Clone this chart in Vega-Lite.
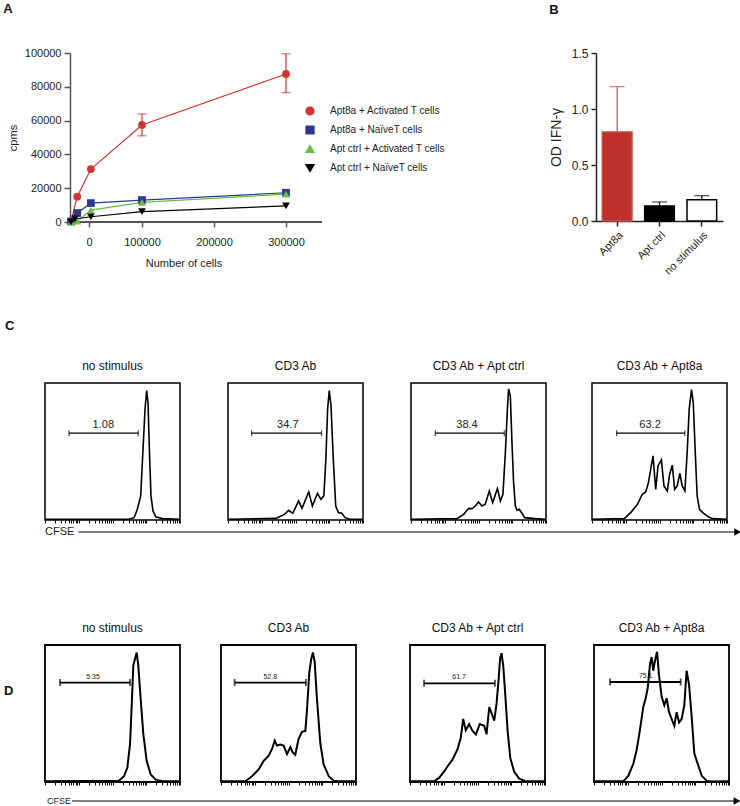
{
"$schema": "https://vega.github.io/schema/vega-lite/v6.json",
"padding": {"left": 3, "top": 3, "right": 0, "bottom": 0},
"background": "white",
"config": {
  "font": "Liberation Sans",
  "view": {"stroke": null},
  "title": {"fontSize": 13, "fontWeight": "bold", "anchor": "start", "color": "#111"},
  "axis": {"labelFont": "Liberation Sans", "titleFont": "Liberation Sans", "grid": false, "labelColor": "#222", "titleColor": "#222"}
},
"datasets": {
  "lines": [
    {"series": "Apt8a + Activated T cells", "x": 1500, "y": 500},
    {"series": "Apt8a + Activated T cells", "x": 10000, "y": 15000},
    {"series": "Apt8a + Activated T cells", "x": 29000, "y": 31300},
    {"series": "Apt8a + Activated T cells", "x": 100000, "y": 57400},
    {"series": "Apt8a + Activated T cells", "x": 300000, "y": 87600},
    {"series": "Apt8a + NaïveT cells", "x": 1500, "y": 300},
    {"series": "Apt8a + NaïveT cells", "x": 10000, "y": 5300},
    {"series": "Apt8a + NaïveT cells", "x": 29000, "y": 11200},
    {"series": "Apt8a + NaïveT cells", "x": 100000, "y": 13000},
    {"series": "Apt8a + NaïveT cells", "x": 300000, "y": 17300},
    {"series": "Apt ctrl + Activated T cells", "x": 1500, "y": 0},
    {"series": "Apt ctrl + Activated T cells", "x": 10000, "y": 500},
    {"series": "Apt ctrl + Activated T cells", "x": 29000, "y": 7000},
    {"series": "Apt ctrl + Activated T cells", "x": 100000, "y": 11600},
    {"series": "Apt ctrl + Activated T cells", "x": 300000, "y": 16500},
    {"series": "Apt ctrl + NaïveT cells", "x": 1500, "y": 0},
    {"series": "Apt ctrl + NaïveT cells", "x": 7000, "y": 1800},
    {"series": "Apt ctrl + NaïveT cells", "x": 29000, "y": 3100},
    {"series": "Apt ctrl + NaïveT cells", "x": 100000, "y": 6100},
    {"series": "Apt ctrl + NaïveT cells", "x": 300000, "y": 9500}
  ],
  "errs": [
    {"x": 100000, "y": 51000, "hi": 64000},
    {"x": 300000, "y": 76500, "hi": 99500}
  ],
  "ifn": [
    {"cat": "Apt8a", "v": 0.795, "hi": 1.2},
    {"cat": "Apt ctrl", "v": 0.135, "hi": 0.17},
    {"cat": "no stimulus", "v": 0.19, "hi": 0.226}
  ],
  "c1": [{"x":0,"y":0.5},{"x":62,"y":0.5},{"x":66,"y":1.7},{"x":68.4,"y":7.8},{"x":70.9,"y":17.6},{"x":72.6,"y":51.7},{"x":74.1,"y":81},{"x":75.3,"y":94.4},{"x":76.3,"y":85.9},{"x":77.3,"y":51.7},{"x":78.5,"y":17.6},{"x":80,"y":6.6},{"x":82,"y":2.4},{"x":86.9,"y":1},{"x":100,"y":0.5}],
  "c2": [{"x":0,"y":0.5},{"x":35.5,"y":1.2},{"x":41.8,"y":4.1},{"x":45,"y":7.1},{"x":48,"y":4.9},{"x":52.3,"y":13.9},{"x":54.8,"y":8.5},{"x":59.8,"y":20.5},{"x":62.5,"y":10.2},{"x":66.3,"y":19.5},{"x":68.8,"y":15.1},{"x":71,"y":17.6},{"x":72.5,"y":44.4},{"x":73.8,"y":81},{"x":75,"y":94.4},{"x":76.3,"y":83.4},{"x":78,"y":44.4},{"x":79.8,"y":10.2},{"x":81.8,"y":5.4},{"x":84.3,"y":4.9},{"x":86.8,"y":1.7},{"x":90.5,"y":0.5},{"x":100,"y":0.5}],
  "c3": [{"x":0,"y":0.5},{"x":34,"y":1},{"x":39,"y":4.1},{"x":42.7,"y":8.5},{"x":45.2,"y":8.3},{"x":47.7,"y":10.2},{"x":50,"y":13.2},{"x":52.6,"y":10.2},{"x":55,"y":11.5},{"x":58,"y":21.2},{"x":60.5,"y":12.7},{"x":64,"y":22.9},{"x":66.2,"y":13.9},{"x":68.1,"y":18.8},{"x":69.9,"y":49.3},{"x":71.4,"y":81},{"x":72.3,"y":95.6},{"x":73.6,"y":90.2},{"x":74.8,"y":56.6},{"x":76,"y":27.3},{"x":77.3,"y":10.2},{"x":78.5,"y":7.1},{"x":80.2,"y":7.8},{"x":82.2,"y":4.9},{"x":84.2,"y":1.7},{"x":92,"y":1},{"x":100,"y":0.5}],
  "c4": [{"x":0,"y":0.5},{"x":23.8,"y":1},{"x":28.7,"y":5.4},{"x":33.7,"y":11.5},{"x":37.3,"y":18.8},{"x":39.8,"y":20.5},{"x":41.8,"y":27.3},{"x":43.5,"y":37.1},{"x":45.2,"y":46.8},{"x":47.2,"y":22.4},{"x":48.9,"y":39.5},{"x":51.4,"y":43.9},{"x":53.3,"y":24.9},{"x":55.8,"y":21.2},{"x":57.5,"y":33.4},{"x":59.5,"y":40},{"x":61.2,"y":22.4},{"x":63.1,"y":24.9},{"x":65.1,"y":34.1},{"x":66.8,"y":24.9},{"x":68.8,"y":21.2},{"x":70.5,"y":49.3},{"x":72,"y":81},{"x":73.7,"y":95.1},{"x":75,"y":85.9},{"x":76.4,"y":51.7},{"x":77.9,"y":17.6},{"x":79.6,"y":7.8},{"x":82.1,"y":5.4},{"x":85.3,"y":2.9},{"x":88.9,"y":1},{"x":100,"y":0.5}],
  "d1": [{"x":0,"y":0.5},{"x":54.8,"y":1},{"x":58.5,"y":4.2},{"x":61,"y":10.4},{"x":63,"y":27.9},{"x":64.2,"y":55.2},{"x":65.4,"y":85.1},{"x":66.7,"y":90},{"x":67.9,"y":94.5},{"x":69.1,"y":85.1},{"x":70.9,"y":60.2},{"x":72.8,"y":35.3},{"x":75.3,"y":15.4},{"x":78.3,"y":5.5},{"x":82,"y":1.7},{"x":86.9,"y":0.5},{"x":100,"y":0.5}],
  "d2": [{"x":0,"y":0.5},{"x":18,"y":0.5},{"x":23,"y":4.2},{"x":27.9,"y":9.2},{"x":31.6,"y":15.4},{"x":35.3,"y":19.2},{"x":37.8,"y":24.1},{"x":39.8,"y":30.3},{"x":41.5,"y":26.6},{"x":44,"y":27.4},{"x":46.4,"y":26.6},{"x":48.9,"y":20.4},{"x":51.4,"y":25.4},{"x":53.1,"y":21.6},{"x":55,"y":19.9},{"x":57.5,"y":31.6},{"x":60,"y":36.6},{"x":62.5,"y":37.3},{"x":63.7,"y":52.7},{"x":65.4,"y":80.1},{"x":66.9,"y":90},{"x":68.1,"y":94.5},{"x":69.4,"y":87.6},{"x":71.1,"y":60.2},{"x":73.6,"y":27.9},{"x":76,"y":12.9},{"x":79.8,"y":4.2},{"x":83.5,"y":1},{"x":87.2,"y":0.5},{"x":100,"y":0.5}],
  "d3": [{"x":0,"y":0.5},{"x":17.8,"y":0.5},{"x":21.5,"y":3},{"x":25.2,"y":7.5},{"x":28.5,"y":12.4},{"x":31.4,"y":16.2},{"x":35.1,"y":23.6},{"x":37.6,"y":32.3},{"x":39.4,"y":46},{"x":41.3,"y":37.8},{"x":43.8,"y":42.3},{"x":46.3,"y":37.3},{"x":48.8,"y":34.8},{"x":51.7,"y":42.3},{"x":55,"y":41},{"x":56.7,"y":34.8},{"x":58.7,"y":54.7},{"x":60.6,"y":49.8},{"x":62.4,"y":44.8},{"x":64.1,"y":57.2},{"x":65.6,"y":74.6},{"x":66.8,"y":90.8},{"x":67.8,"y":94},{"x":69.1,"y":84.6},{"x":70.5,"y":64.7},{"x":72.3,"y":37.3},{"x":74.3,"y":17.4},{"x":77.2,"y":7.5},{"x":80.9,"y":2.5},{"x":85.9,"y":0.5},{"x":100,"y":0.5}],
  "d4": [{"x":0,"y":0.5},{"x":21.7,"y":0.5},{"x":25.4,"y":4.5},{"x":29.1,"y":13.3},{"x":31.6,"y":23.4},{"x":34.1,"y":38.4},{"x":36.5,"y":54.8},{"x":38.3,"y":61.1},{"x":39.8,"y":68.6},{"x":41.5,"y":86.2},{"x":42.7,"y":91.2},{"x":43.9,"y":81.2},{"x":45.2,"y":88.7},{"x":46.7,"y":95},{"x":48.1,"y":78.6},{"x":50.1,"y":62.3},{"x":52.1,"y":56},{"x":53.8,"y":61.1},{"x":55.6,"y":51},{"x":57.5,"y":46},{"x":59.5,"y":41},{"x":61.2,"y":51},{"x":63,"y":43.5},{"x":64.9,"y":46},{"x":66.9,"y":56},{"x":68.6,"y":81.2},{"x":70.4,"y":71.1},{"x":72.3,"y":48.5},{"x":74.3,"y":20.9},{"x":76.8,"y":13.3},{"x":79.8,"y":4.5},{"x":83.5,"y":0.8},{"x":87.2,"y":0.3},{"x":100,"y":0.5}],
  "gates": [
    {"p": "C1", "x": 17.8, "x2": 69.1, "y": 63.4, "mid": 43.2, "label": "1.08"},
    {"p": "C2", "x": 17.5, "x2": 69.3, "y": 63.4, "mid": 44.3, "label": "34.7"},
    {"p": "C3", "x": 18, "x2": 69.1, "y": 63.4, "mid": 41.5, "label": "38.4"},
    {"p": "C4", "x": 18.2, "x2": 68.8, "y": 63.4, "mid": 43, "label": "63.2"},
    {"p": "D1", "x": 11.1, "x2": 63, "y": 72.6, "mid": 35.6, "label": "5.35"},
    {"p": "D2", "x": 10.1, "x2": 62.9, "y": 72.6, "mid": 36.5, "label": "52.8"},
    {"p": "D3", "x": 10.4, "x2": 62.9, "y": 72, "mid": 36.4, "label": "61.7"},
    {"p": "D4", "x": 11.9, "x2": 64.2, "y": 73, "mid": 38.3, "label": "75.1"}
  ]
},
"columns": 1,
"align": "none",
"spacing": 83,
"concat": [
  {
    "columns": 1,
    "align": "none",
    "spacing": 43,
    "concat": [
      {
        "spacing": 226,
        "hconcat": [
          {
            "title": {"text": "A", "anchor": "start", "frame": "bounds", "dx": -4, "offset": 31},
            "width": 277, "height": 169,
            "data": {"name": "lines"},
            "encoding": {
              "x": {"field": "x", "type": "quantitative", "scale": {"domain": [-34722, 350000], "nice": false, "zero": false},
                    "axis": {"values": [26400, 100000, 200000, 300000], "labelExpr": "datum.value < 50000 ? '0' : format(datum.value, 'd')", "title": "Number of cells", "titleFontSize": 11, "titleFontWeight": "normal", "labelFontSize": 11, "tickSize": 5, "labelPadding": 9, "titlePadding": 10, "domain": false, "tickColor": "#555", "tickWidth": 1.5}},
              "y": {"field": "y", "type": "quantitative", "scale": {"domain": [0, 100000], "nice": false},
                    "axis": {"values": [0, 20000, 40000, 60000, 80000, 100000], "format": "d", "title": "cpms", "titleFontSize": 11, "titleFontWeight": "normal", "labelFontSize": 11, "tickSize": 6, "labelPadding": 3, "titlePadding": 6, "offset": -25, "domainColor": "#555", "tickColor": "#555", "domainWidth": 1.5, "tickWidth": 1.5}}
            },
            "layer": [
              {
                "mark": {"type": "rule", "color": "#555", "strokeWidth": 1.5},
                "encoding": {"x": {"datum": 0, "type": "quantitative"}, "x2": {"datum": 350000}, "y": {"datum": 0, "type": "quantitative"}}
              },
              {
                "mark": {"type": "line", "strokeWidth": 1.2},
                "encoding": {
                  "color": {"field": "series", "type": "nominal",
                            "scale": {"domain": ["Apt8a + Activated T cells", "Apt8a + NaïveT cells", "Apt ctrl + Activated T cells", "Apt ctrl + NaïveT cells"], "range": ["#d0362e", "#2b3990", "#6abd45", "#000000"]},
                            "legend": {"orient": "none", "legendX": 260, "legendY": 53, "title": null, "labelFontSize": 10, "labelColor": "#222", "symbolSize": 60, "rowPadding": 5, "labelOffset": 15}}
                }
              },
              {
                "data": {"name": "errs"},
                "layer": [
                  {"mark": {"type": "rule", "color": "#d0362e", "strokeWidth": 1.2},
                   "encoding": {"y2": {"field": "hi"}}},
                  {"mark": {"type": "tick", "orient": "horizontal", "color": "#d0362e", "size": 9, "thickness": 1.2},
                   "encoding": {}},
                  {"mark": {"type": "tick", "orient": "horizontal", "color": "#d0362e", "size": 9, "thickness": 1.2},
                   "encoding": {"y": {"field": "hi", "type": "quantitative"}}}
                ]
              },
              {
                "mark": {"type": "point", "filled": true, "opacity": 1, "size": 60},
                "encoding": {
                  "color": {"field": "series", "type": "nominal"},
                  "shape": {"field": "series", "type": "nominal",
                            "scale": {"domain": ["Apt8a + Activated T cells", "Apt8a + NaïveT cells", "Apt ctrl + Activated T cells", "Apt ctrl + NaïveT cells"], "range": ["circle", "square", "triangle-up", "triangle-down"]}}
                }
              }
            ]
          },
          {
            "title": {"text": "B", "anchor": "start", "frame": "bounds", "offset": 30},
            "width": 127, "height": 168,
            "data": {"name": "ifn"},
            "encoding": {
              "x": {"field": "cat", "type": "nominal", "sort": null, "scale": {"paddingInner": 0.3, "paddingOuter": 0.15},
                    "axis": {"labelAngle": -45, "labelFontSize": 11, "title": null, "domainColor": "#222", "domainWidth": 1.5, "tickColor": "#222", "tickWidth": 1.5, "tickSize": 5, "labelPadding": 3}},
              "y": {"field": "v", "type": "quantitative", "scale": {"domain": [0, 1.5], "nice": false},
                    "axis": {"values": [0, 0.5, 1, 1.5], "format": ".1f", "title": "OD IFN-γ", "titleFontSize": 14, "titleFontWeight": "normal", "labelFontSize": 12, "tickSize": 5, "labelPadding": 3, "titlePadding": 8, "domainColor": "#222", "domainWidth": 1.5, "tickColor": "#222", "tickWidth": 1.5}}
            },
            "layer": [
              {
                "mark": {"type": "bar", "strokeWidth": 1.5},
                "encoding": {
                  "fill": {"field": "cat", "type": "nominal", "scale": {"domain": ["Apt8a", "Apt ctrl", "no stimulus"], "range": ["#bd302b", "#000000", "#ffffff"]}, "legend": null},
                  "stroke": {"field": "cat", "type": "nominal", "scale": {"domain": ["Apt8a", "Apt ctrl", "no stimulus"], "range": ["#c94a45", "#000000", "#000000"]}, "legend": null}
                }
              },
              {
                "transform": [{"filter": "datum.cat === 'Apt8a'"}],
                "layer": [
                  {"mark": {"type": "rule", "color": "#d04a45", "strokeWidth": 1.2}, "encoding": {"y2": {"field": "hi"}}},
                  {"mark": {"type": "tick", "orient": "horizontal", "color": "#d04a45", "size": 15, "thickness": 1.2}, "encoding": {"y": {"field": "hi", "type": "quantitative"}}}
                ]
              },
              {
                "transform": [{"filter": "datum.cat !== 'Apt8a'"}],
                "layer": [
                  {"mark": {"type": "rule", "color": "#000000", "strokeWidth": 1.2}, "encoding": {"y2": {"field": "hi"}}},
                  {"mark": {"type": "tick", "orient": "horizontal", "color": "#000000", "size": 15, "thickness": 1.2}, "encoding": {"y": {"field": "hi", "type": "quantitative"}}}
                ]
              }
            ]
          }
        ]
      },
      {
        "columns": 1,
        "align": "none",
        "spacing": 1,
        "concat": [
          {
            "title": {"text": "C", "anchor": "start", "dx": -36, "offset": 26},
            "spacing": 40,
            "hconcat": [
              {"spacing": 40, "hconcat": [
                {"width": 135, "height": 137, "title": {"text": "no stimulus", "fontSize": 12, "fontWeight": "normal", "anchor": "middle", "offset": 10}, "view": {"stroke": "black", "strokeWidth": 1.5},
                 "encoding": {"x": {"field": "x", "type": "quantitative", "scale": {"domain": [0, 100], "nice": false, "zero": false}, "axis": {"values": [0,7.5,11.9,15.1,17.5,19.5,21.1,22.6,23.9,25,32.5,36.9,40.1,42.5,44.5,46.1,47.6,48.9,50,57.5,61.9,65.1,67.5,69.5,71.1,72.6,73.9,75,82.5,86.9,90.1,92.5,94.5,96.1,97.6,98.9,100], "labels": false, "domain": false, "tickSize": 3, "tickColor": "black", "tickWidth": 1, "title": null}},
                              "y": {"field": "y", "type": "quantitative", "scale": {"domain": [0, 100], "nice": false}, "axis": null}},
                 "layer": [
                   {"data": {"name": "c1"}, "mark": {"type": "line", "color": "black", "strokeWidth": 1.6}},
                   {"data": {"name": "gates"}, "transform": [{"filter": "datum.p === 'C1'"}], "layer": [
                     {"mark": {"type": "rule", "color": "black", "strokeWidth": 1.2}, "encoding": {"x2": {"field": "x2"}}},
                     {"mark": {"type": "tick", "orient": "vertical", "color": "black", "size": 6, "thickness": 1.2}},
                     {"mark": {"type": "tick", "orient": "vertical", "color": "black", "size": 6, "thickness": 1.2}, "encoding": {"x": {"field": "x2", "type": "quantitative"}}},
                     {"mark": {"type": "text", "fontSize": 11, "baseline": "bottom", "dy": -3, "color": "#222"}, "encoding": {"x": {"field": "mid", "type": "quantitative"}, "text": {"field": "label"}}}
                   ]}
                 ]},
                {"width": 135, "height": 137, "title": {"text": "CD3 Ab", "fontSize": 12, "fontWeight": "normal", "anchor": "middle", "offset": 10}, "view": {"stroke": "black", "strokeWidth": 1.5},
                 "encoding": {"x": {"field": "x", "type": "quantitative", "scale": {"domain": [0, 100], "nice": false, "zero": false}, "axis": {"values": [0,7.5,11.9,15.1,17.5,19.5,21.1,22.6,23.9,25,32.5,36.9,40.1,42.5,44.5,46.1,47.6,48.9,50,57.5,61.9,65.1,67.5,69.5,71.1,72.6,73.9,75,82.5,86.9,90.1,92.5,94.5,96.1,97.6,98.9,100], "labels": false, "domain": false, "tickSize": 3, "tickColor": "black", "tickWidth": 1, "title": null}},
                              "y": {"field": "y", "type": "quantitative", "scale": {"domain": [0, 100], "nice": false}, "axis": null}},
                 "layer": [
                   {"data": {"name": "c2"}, "mark": {"type": "line", "color": "black", "strokeWidth": 1.6}},
                   {"data": {"name": "gates"}, "transform": [{"filter": "datum.p === 'C2'"}], "layer": [
                     {"mark": {"type": "rule", "color": "black", "strokeWidth": 1.2}, "encoding": {"x2": {"field": "x2"}}},
                     {"mark": {"type": "tick", "orient": "vertical", "color": "black", "size": 6, "thickness": 1.2}},
                     {"mark": {"type": "tick", "orient": "vertical", "color": "black", "size": 6, "thickness": 1.2}, "encoding": {"x": {"field": "x2", "type": "quantitative"}}},
                     {"mark": {"type": "text", "fontSize": 11, "baseline": "bottom", "dy": -3, "color": "#222"}, "encoding": {"x": {"field": "mid", "type": "quantitative"}, "text": {"field": "label"}}}
                   ]}
                 ]}
              ]},
              {"spacing": 38, "hconcat": [
                {"width": 135, "height": 137, "title": {"text": "CD3 Ab + Apt ctrl", "fontSize": 12, "fontWeight": "normal", "anchor": "middle", "offset": 10}, "view": {"stroke": "black", "strokeWidth": 1.5},
                 "encoding": {"x": {"field": "x", "type": "quantitative", "scale": {"domain": [0, 100], "nice": false, "zero": false}, "axis": {"values": [0,7.5,11.9,15.1,17.5,19.5,21.1,22.6,23.9,25,32.5,36.9,40.1,42.5,44.5,46.1,47.6,48.9,50,57.5,61.9,65.1,67.5,69.5,71.1,72.6,73.9,75,82.5,86.9,90.1,92.5,94.5,96.1,97.6,98.9,100], "labels": false, "domain": false, "tickSize": 3, "tickColor": "black", "tickWidth": 1, "title": null}},
                              "y": {"field": "y", "type": "quantitative", "scale": {"domain": [0, 100], "nice": false}, "axis": null}},
                 "layer": [
                   {"data": {"name": "c3"}, "mark": {"type": "line", "color": "black", "strokeWidth": 1.6}},
                   {"data": {"name": "gates"}, "transform": [{"filter": "datum.p === 'C3'"}], "layer": [
                     {"mark": {"type": "rule", "color": "black", "strokeWidth": 1.2}, "encoding": {"x2": {"field": "x2"}}},
                     {"mark": {"type": "tick", "orient": "vertical", "color": "black", "size": 6, "thickness": 1.2}},
                     {"mark": {"type": "tick", "orient": "vertical", "color": "black", "size": 6, "thickness": 1.2}, "encoding": {"x": {"field": "x2", "type": "quantitative"}}},
                     {"mark": {"type": "text", "fontSize": 11, "baseline": "bottom", "dy": -3, "color": "#222"}, "encoding": {"x": {"field": "mid", "type": "quantitative"}, "text": {"field": "label"}}}
                   ]}
                 ]},
                {"width": 135, "height": 137, "title": {"text": "CD3 Ab + Apt8a", "fontSize": 12, "fontWeight": "normal", "anchor": "middle", "offset": 10}, "view": {"stroke": "black", "strokeWidth": 1.5},
                 "encoding": {"x": {"field": "x", "type": "quantitative", "scale": {"domain": [0, 100], "nice": false, "zero": false}, "axis": {"values": [0,7.5,11.9,15.1,17.5,19.5,21.1,22.6,23.9,25,32.5,36.9,40.1,42.5,44.5,46.1,47.6,48.9,50,57.5,61.9,65.1,67.5,69.5,71.1,72.6,73.9,75,82.5,86.9,90.1,92.5,94.5,96.1,97.6,98.9,100], "labels": false, "domain": false, "tickSize": 3, "tickColor": "black", "tickWidth": 1, "title": null}},
                              "y": {"field": "y", "type": "quantitative", "scale": {"domain": [0, 100], "nice": false}, "axis": null}},
                 "layer": [
                   {"data": {"name": "c4"}, "mark": {"type": "line", "color": "black", "strokeWidth": 1.6}},
                   {"data": {"name": "gates"}, "transform": [{"filter": "datum.p === 'C4'"}], "layer": [
                     {"mark": {"type": "rule", "color": "black", "strokeWidth": 1.2}, "encoding": {"x2": {"field": "x2"}}},
                     {"mark": {"type": "tick", "orient": "vertical", "color": "black", "size": 6, "thickness": 1.2}},
                     {"mark": {"type": "tick", "orient": "vertical", "color": "black", "size": 6, "thickness": 1.2}, "encoding": {"x": {"field": "x2", "type": "quantitative"}}},
                     {"mark": {"type": "text", "fontSize": 11, "baseline": "bottom", "dy": -3, "color": "#222"}, "encoding": {"x": {"field": "mid", "type": "quantitative"}, "text": {"field": "label"}}}
                   ]}
                 ]}
              ]}
            ]
          },
          {
            "width": 694, "height": 12,
            "data": {"values": [{"s": 4.8, "e": 99.8, "t": 0, "label": "CFSE"}]},
            "encoding": {"y": {"datum": 0.5, "type": "quantitative", "scale": {"domain": [0, 1]}, "axis": null}},
            "layer": [
              {"mark": {"type": "rule", "color": "black", "strokeWidth": 1.2},
               "encoding": {"x": {"field": "s", "type": "quantitative", "scale": {"domain": [0, 100], "nice": false}, "axis": null}, "x2": {"field": "e"}}},
              {"mark": {"type": "point", "shape": "triangle-right", "filled": true, "color": "black", "size": 60, "opacity": 1},
               "encoding": {"x": {"field": "e", "type": "quantitative", "axis": null}}},
              {"mark": {"type": "text", "align": "left", "baseline": "middle", "fontSize": 11, "color": "#222"},
               "encoding": {"x": {"field": "t", "type": "quantitative", "axis": null}, "text": {"field": "label"}}}
            ]
          }
        ]
      }
    ]
  },
  {
    "columns": 1,
    "align": "none",
    "spacing": 8,
    "concat": [
      {
        "title": {"text": "D", "anchor": "start", "dx": -36, "dy": 77, "offset": 0},
        "spacing": 44,
        "hconcat": [
          {"spacing": 31, "hconcat": [
            {"width": 135, "height": 137, "title": {"text": "no stimulus", "fontSize": 12, "fontWeight": "normal", "anchor": "middle", "offset": 10}, "view": {"stroke": "black", "strokeWidth": 1.8},
             "encoding": {"x": {"field": "x", "type": "quantitative", "scale": {"domain": [0, 100], "nice": false, "zero": false}, "axis": {"values": [0,7.5,11.9,15.1,17.5,19.5,21.1,22.6,23.9,25,32.5,36.9,40.1,42.5,44.5,46.1,47.6,48.9,50,57.5,61.9,65.1,67.5,69.5,71.1,72.6,73.9,75,82.5,86.9,90.1,92.5,94.5,96.1,97.6,98.9,100], "labels": false, "domain": false, "tickSize": 3, "tickColor": "black", "tickWidth": 1, "title": null}},
                          "y": {"field": "y", "type": "quantitative", "scale": {"domain": [0, 100], "nice": false}, "axis": null}},
             "layer": [
               {"data": {"name": "d1"}, "mark": {"type": "line", "color": "black", "strokeWidth": 2}},
               {"data": {"name": "gates"}, "transform": [{"filter": "datum.p === 'D1'"}], "layer": [
                 {"mark": {"type": "rule", "color": "black", "strokeWidth": 1.8}, "encoding": {"x2": {"field": "x2"}}},
                 {"mark": {"type": "tick", "orient": "vertical", "color": "black", "size": 7, "thickness": 1.8}},
                 {"mark": {"type": "tick", "orient": "vertical", "color": "black", "size": 7, "thickness": 1.8}, "encoding": {"x": {"field": "x2", "type": "quantitative"}}},
                 {"mark": {"type": "text", "fontSize": 7, "baseline": "bottom", "dy": -3, "color": "#222"}, "encoding": {"x": {"field": "mid", "type": "quantitative"}, "text": {"field": "label"}}}
               ]}
             ]},
            {"width": 135, "height": 137, "title": {"text": "CD3 Ab", "fontSize": 12, "fontWeight": "normal", "anchor": "middle", "offset": 10}, "view": {"stroke": "black", "strokeWidth": 1.8},
             "encoding": {"x": {"field": "x", "type": "quantitative", "scale": {"domain": [0, 100], "nice": false, "zero": false}, "axis": {"values": [0,7.5,11.9,15.1,17.5,19.5,21.1,22.6,23.9,25,32.5,36.9,40.1,42.5,44.5,46.1,47.6,48.9,50,57.5,61.9,65.1,67.5,69.5,71.1,72.6,73.9,75,82.5,86.9,90.1,92.5,94.5,96.1,97.6,98.9,100], "labels": false, "domain": false, "tickSize": 3, "tickColor": "black", "tickWidth": 1, "title": null}},
                          "y": {"field": "y", "type": "quantitative", "scale": {"domain": [0, 100], "nice": false}, "axis": null}},
             "layer": [
               {"data": {"name": "d2"}, "mark": {"type": "line", "color": "black", "strokeWidth": 2}},
               {"data": {"name": "gates"}, "transform": [{"filter": "datum.p === 'D2'"}], "layer": [
                 {"mark": {"type": "rule", "color": "black", "strokeWidth": 1.8}, "encoding": {"x2": {"field": "x2"}}},
                 {"mark": {"type": "tick", "orient": "vertical", "color": "black", "size": 7, "thickness": 1.8}},
                 {"mark": {"type": "tick", "orient": "vertical", "color": "black", "size": 7, "thickness": 1.8}, "encoding": {"x": {"field": "x2", "type": "quantitative"}}},
                 {"mark": {"type": "text", "fontSize": 7, "baseline": "bottom", "dy": -3, "color": "#222"}, "encoding": {"x": {"field": "mid", "type": "quantitative"}, "text": {"field": "label"}}}
               ]}
             ]}
          ]},
          {"spacing": 39, "hconcat": [
            {"width": 135, "height": 137, "title": {"text": "CD3 Ab + Apt ctrl", "fontSize": 12, "fontWeight": "normal", "anchor": "middle", "offset": 10}, "view": {"stroke": "black", "strokeWidth": 1.8},
             "encoding": {"x": {"field": "x", "type": "quantitative", "scale": {"domain": [0, 100], "nice": false, "zero": false}, "axis": {"values": [0,7.5,11.9,15.1,17.5,19.5,21.1,22.6,23.9,25,32.5,36.9,40.1,42.5,44.5,46.1,47.6,48.9,50,57.5,61.9,65.1,67.5,69.5,71.1,72.6,73.9,75,82.5,86.9,90.1,92.5,94.5,96.1,97.6,98.9,100], "labels": false, "domain": false, "tickSize": 3, "tickColor": "black", "tickWidth": 1, "title": null}},
                          "y": {"field": "y", "type": "quantitative", "scale": {"domain": [0, 100], "nice": false}, "axis": null}},
             "layer": [
               {"data": {"name": "d3"}, "mark": {"type": "line", "color": "black", "strokeWidth": 2}},
               {"data": {"name": "gates"}, "transform": [{"filter": "datum.p === 'D3'"}], "layer": [
                 {"mark": {"type": "rule", "color": "black", "strokeWidth": 1.8}, "encoding": {"x2": {"field": "x2"}}},
                 {"mark": {"type": "tick", "orient": "vertical", "color": "black", "size": 7, "thickness": 1.8}},
                 {"mark": {"type": "tick", "orient": "vertical", "color": "black", "size": 7, "thickness": 1.8}, "encoding": {"x": {"field": "x2", "type": "quantitative"}}},
                 {"mark": {"type": "text", "fontSize": 7, "baseline": "bottom", "dy": -3, "color": "#222"}, "encoding": {"x": {"field": "mid", "type": "quantitative"}, "text": {"field": "label"}}}
               ]}
             ]},
            {"width": 135, "height": 137, "title": {"text": "CD3 Ab + Apt8a", "fontSize": 12, "fontWeight": "normal", "anchor": "middle", "offset": 10}, "view": {"stroke": "black", "strokeWidth": 1.8},
             "encoding": {"x": {"field": "x", "type": "quantitative", "scale": {"domain": [0, 100], "nice": false, "zero": false}, "axis": {"values": [0,7.5,11.9,15.1,17.5,19.5,21.1,22.6,23.9,25,32.5,36.9,40.1,42.5,44.5,46.1,47.6,48.9,50,57.5,61.9,65.1,67.5,69.5,71.1,72.6,73.9,75,82.5,86.9,90.1,92.5,94.5,96.1,97.6,98.9,100], "labels": false, "domain": false, "tickSize": 3, "tickColor": "black", "tickWidth": 1, "title": null}},
                          "y": {"field": "y", "type": "quantitative", "scale": {"domain": [0, 100], "nice": false}, "axis": null}},
             "layer": [
               {"data": {"name": "d4"}, "mark": {"type": "line", "color": "black", "strokeWidth": 2}},
               {"data": {"name": "gates"}, "transform": [{"filter": "datum.p === 'D4'"}], "layer": [
                 {"mark": {"type": "rule", "color": "black", "strokeWidth": 1.8}, "encoding": {"x2": {"field": "x2"}}},
                 {"mark": {"type": "tick", "orient": "vertical", "color": "black", "size": 7, "thickness": 1.8}},
                 {"mark": {"type": "tick", "orient": "vertical", "color": "black", "size": 7, "thickness": 1.8}, "encoding": {"x": {"field": "x2", "type": "quantitative"}}},
                 {"mark": {"type": "text", "fontSize": 7, "baseline": "bottom", "dy": -3, "color": "#222"}, "encoding": {"x": {"field": "mid", "type": "quantitative"}, "text": {"field": "label"}}}
               ]}
             ]}
          ]}
        ]
      },
      {
        "width": 694, "height": 12,
        "data": {"values": [{"s": 3.9, "e": 99.7, "t": 0.3, "label": "CFSE"}]},
        "encoding": {"y": {"datum": 0.5, "type": "quantitative", "scale": {"domain": [0, 1]}, "axis": null}},
        "layer": [
          {"mark": {"type": "rule", "color": "black", "strokeWidth": 1.2},
           "encoding": {"x": {"field": "s", "type": "quantitative", "scale": {"domain": [0, 100], "nice": false}, "axis": null}, "x2": {"field": "e"}}},
          {"mark": {"type": "point", "shape": "triangle-right", "filled": true, "color": "black", "size": 60, "opacity": 1},
           "encoding": {"x": {"field": "e", "type": "quantitative", "axis": null}}},
          {"mark": {"type": "text", "align": "left", "baseline": "middle", "fontSize": 9, "color": "#222"},
           "encoding": {"x": {"field": "t", "type": "quantitative", "axis": null}, "text": {"field": "label"}}}
        ]
      }
    ]
  }
]
}
